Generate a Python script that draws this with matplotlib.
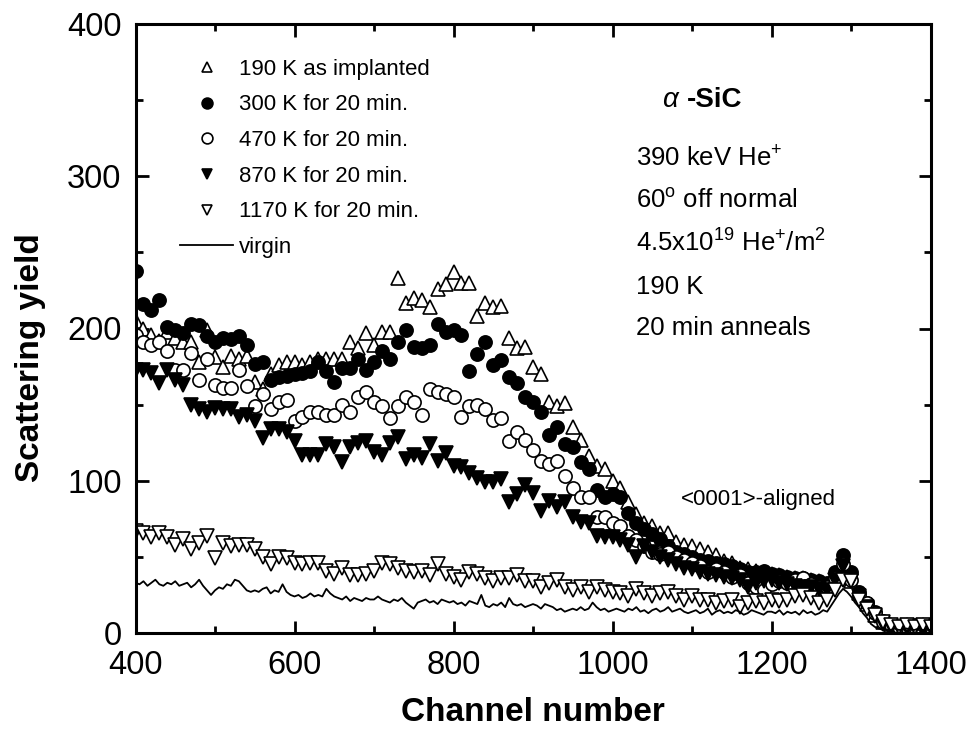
import numpy as np
import matplotlib
matplotlib.use("Agg")
import matplotlib.pyplot as plt
from matplotlib.ticker import MultipleLocator

plt.rcParams['font.family'] = ['Liberation Sans', 'DejaVu Sans']
plt.rcParams['mathtext.fontset'] = 'custom'
plt.rcParams['mathtext.rm'] = 'Liberation Sans'
plt.rcParams['mathtext.it'] = 'Liberation Sans:italic'
plt.rcParams['mathtext.bf'] = 'Liberation Sans:bold'

# ---- data ----
channels = list(range(400, 1401, 10))

y_190K = [205, 200, 196, 192, 198, 194, 191, 191, 178, 199,
          181, 175, 182, 180, 182, 165, 160, 170, 176, 178,
          178, 176, 178, 180, 180, 180, 180, 191, 187, 197,
          189, 198, 198, 233, 217, 220, 219, 214, 226, 229,
          237, 230, 230, 208, 217, 214, 215, 194, 187, 188,
          175, 170, 152, 149, 151, 135, 127, 116, 110, 108,
          100, 95, 86, 78, 72, 70, 66, 66, 60, 58,
          57, 55, 53, 51, 47, 46, 43, 42, 41, 40,
          39, 38, 37, 36, 36, 35, 34, 31, 36, 42,
          34, 26, 19, 12, 7, 5, 4, 5, 4, 5, 4]

y_300K = [238, 216, 212, 219, 201, 199, 197, 203, 202, 195,
          191, 194, 193, 195, 189, 177, 178, 166, 168, 169,
          170, 171, 172, 178, 172, 165, 174, 174, 180, 173,
          178, 185, 180, 191, 199, 188, 187, 189, 203, 198,
          199, 196, 172, 183, 191, 176, 179, 168, 164, 155,
          152, 145, 130, 135, 124, 122, 112, 108, 94, 89,
          91, 89, 79, 72, 68, 65, 62, 57, 53, 52,
          50, 48, 47, 46, 45, 44, 42, 40, 40, 41,
          39, 38, 37, 36, 36, 35, 34, 33, 40, 51,
          40, 27, 20, 14, 8, 5, 4, 4, 5, 4, 4]

y_470K = [196, 191, 189, 191, 185, 173, 173, 184, 166, 180,
          163, 161, 161, 173, 162, 149, 157, 147, 152, 153,
          139, 142, 145, 145, 143, 143, 150, 145, 155, 158,
          152, 149, 141, 149, 155, 152, 143, 160, 158, 157,
          155, 142, 149, 150, 147, 140, 141, 126, 132, 127,
          120, 113, 111, 113, 103, 95, 89, 89, 76, 76,
          72, 70, 64, 61, 57, 53, 52, 53, 50, 48,
          46, 44, 40, 42, 40, 37, 38, 33, 30, 28,
          32, 34, 33, 35, 36, 32, 30, 30, 36, 45,
          35, 25, 20, 13, 7, 5, 4, 4, 4, 5, 4]

y_870K = [173, 173, 171, 164, 173, 166, 163, 150, 147, 145,
          148, 147, 147, 142, 143, 139, 128, 134, 134, 132,
          126, 117, 117, 117, 124, 122, 112, 122, 125, 126,
          119, 117, 125, 129, 114, 117, 115, 124, 113, 118,
          110, 109, 105, 102, 99, 99, 101, 86, 91, 97,
          92, 80, 87, 83, 86, 76, 73, 72, 64, 63,
          63, 61, 58, 50, 57, 53, 50, 48, 45, 43,
          42, 40, 39, 38, 37, 36, 35, 30, 33, 34,
          35, 33, 32, 31, 30, 30, 29, 28, 35, 44,
          34, 24, 17, 11, 6, 4, 3, 3, 3, 3, 3]

y_1170K = [67, 66, 63, 66, 63, 58, 62, 55, 59, 64,
           49, 59, 57, 58, 58, 55, 50, 45, 50, 49,
           46, 45, 46, 46, 41, 39, 43, 38, 38, 39,
           41, 46, 45, 43, 41, 40, 41, 38, 45, 39,
           37, 35, 40, 39, 36, 34, 36, 36, 38, 34,
           34, 30, 33, 35, 30, 28, 30, 27, 30, 28,
           27, 26, 24, 29, 26, 24, 26, 27, 24, 22,
           24, 22, 22, 20, 21, 22, 17, 20, 21, 20,
           22, 21, 22, 24, 25, 23, 20, 22, 28, 35,
           34, 22, 16, 12, 7, 5, 4, 5, 4, 5, 4]

virgin_channels = list(range(400, 1401, 5))
y_virgin = [33, 32, 34, 31, 33, 35, 32, 31, 33, 32,
            34, 31, 32, 33, 30, 32, 35, 31, 28, 25,
            28, 30, 29, 32, 31, 35, 34, 31, 28, 27,
            28, 27, 29, 30, 26, 28, 27, 32, 27, 25,
            24, 25, 23, 24, 26, 24, 25, 24, 29, 26,
            24, 23, 22, 24, 21, 23, 22, 21, 23, 22,
            22, 24, 22, 21, 20, 22, 21, 23, 20, 18,
            16, 20, 21, 22, 20, 21, 19, 22, 21, 20,
            21, 19, 20, 18, 21, 20, 19, 25, 18, 17,
            19, 18, 20, 17, 23, 19, 18, 19, 17, 18,
            19, 18, 16, 19, 18, 17, 15, 16, 14, 15,
            16, 15, 17, 15, 16, 20, 17, 15, 16, 14,
            15, 16, 15, 14, 16, 15, 17, 14, 15, 13,
            15, 16, 14, 15, 17, 14, 15, 16, 14, 13,
            14, 15, 13, 14, 16, 12, 14, 15, 13, 14,
            13, 15, 14, 12, 13, 15, 14, 13, 12, 14,
            14, 13, 15, 12, 14, 13, 14, 12, 15, 13,
            14, 12, 13, 15, 14, 18, 22, 26, 29, 27,
            24, 20, 17, 13, 10, 6, 4, 3, 2, 2,
            2, 3, 2, 2, 3, 2, 2, 3, 2, 2,
            2]

labels = ["190 K as implanted", "300 K for 20 min.", "470 K for 20 min.",
          "870 K for 20 min.", "1170 K for 20 min.", "virgin"]

# ---- figure ----
W, H = 971, 729
fig = plt.figure(figsize=(W / 100, H / 100), dpi=100)
ax = fig.add_axes([135.5 / W, (H - 633) / H, 795 / W, 609 / H])

ms = 9.5
mew = 1.2
ax.plot(channels, y_190K, ls='none', marker='^', ms=ms, mfc='white', mec='black', mew=mew, label=labels[0])
ax.plot(channels, y_300K, ls='none', marker='o', ms=ms, mfc='black', mec='black', mew=mew, label=labels[1])
ax.plot(channels, y_470K, ls='none', marker='o', ms=ms, mfc='white', mec='black', mew=mew, label=labels[2])
ax.plot(channels, y_870K, ls='none', marker='v', ms=ms, mfc='black', mec='black', mew=mew, label=labels[3])
ax.plot(channels, y_1170K, ls='none', marker='v', ms=ms, mfc='white', mec='black', mew=mew, label=labels[4])
ax.plot(virgin_channels, y_virgin, color='black', lw=1.3, label=labels[5])

ax.set_xlim(400, 1400)
ax.set_ylim(0, 400)
ax.xaxis.set_major_locator(MultipleLocator(200))
ax.xaxis.set_minor_locator(MultipleLocator(100))
ax.yaxis.set_major_locator(MultipleLocator(100))
ax.yaxis.set_minor_locator(MultipleLocator(50))
ax.tick_params(which='both', direction='in', top=True, right=True, width=2)
ax.tick_params(which='major', length=9, labelsize=23.5)
ax.tick_params(axis='x', which='major', pad=12)
ax.tick_params(axis='y', which='major', pad=10)
ax.tick_params(which='minor', length=5)
for s in ax.spines.values():
    s.set_linewidth(2.2)

ax.set_xlabel("Channel number", fontsize=24, fontweight='bold')
ax.set_ylabel("Scattering yield", fontsize=24, fontweight='bold')
ax.xaxis.set_label_coords(0.5, -0.1045)
ax.yaxis.set_label_coords(-0.112, 0.452)

leg = ax.legend(loc='upper left', bbox_to_anchor=(0.056, 0.943), frameon=False,
                fontsize=16, markerscale=0.82, handlelength=2.4, handletextpad=0.25,
                labelspacing=0.66, borderpad=0, borderaxespad=0)

fs = 18.5
ax.text(0.686, 0.8637, r"$\alpha$", transform=ax.transAxes, fontsize=20, ha='right', va='baseline')
ax.text(0.693, 0.8637, "-SiC", transform=ax.transAxes, fontsize=20, fontweight='bold', ha='left', va='baseline')
ax.text(0.6296, 0.7668, r"390 keV He$^{+}$", transform=ax.transAxes, fontsize=fs, ha='left', va='baseline')
ax.text(0.6296, 0.6979, r"60$^{\mathrm{o}}$ off normal", transform=ax.transAxes, fontsize=fs, ha='left', va='baseline')
ax.text(0.6296, 0.6256, r"4.5x10$^{19}$ He$^{+}$/m$^{2}$", transform=ax.transAxes, fontsize=fs, ha='left', va='baseline')
ax.text(0.6296, 0.5566, "190 K", transform=ax.transAxes, fontsize=fs, ha='left', va='baseline')
ax.text(0.6296, 0.4893, "20 min anneals", transform=ax.transAxes, fontsize=fs, ha='left', va='baseline')
ax.text(0.686, 0.210, "<0001>-aligned", transform=ax.transAxes, fontsize=16, ha='left', va='baseline')

fig.savefig("out.png", dpi=100)
